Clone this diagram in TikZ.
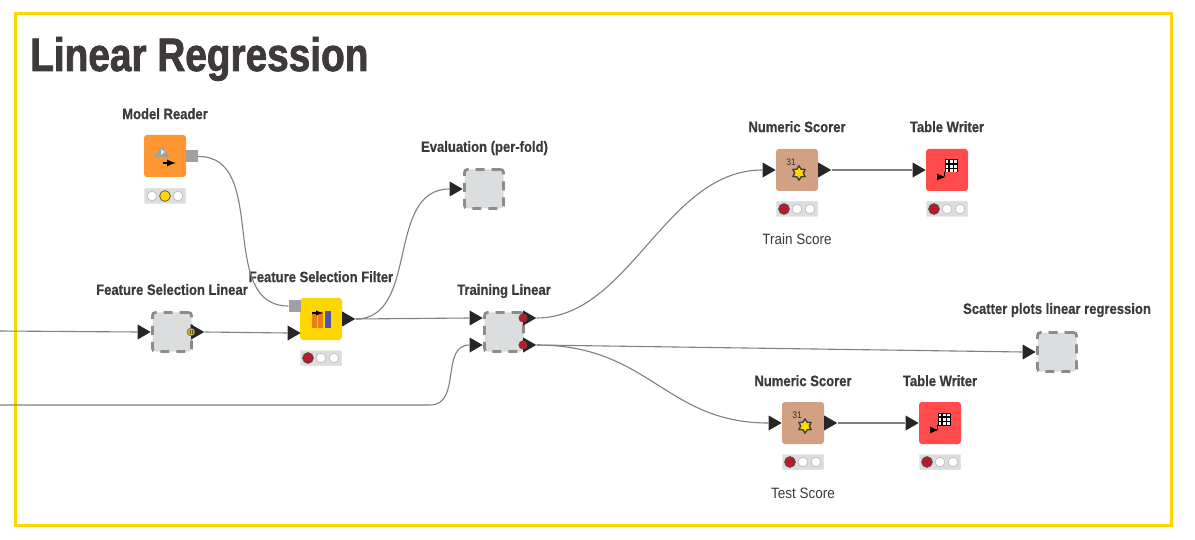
\documentclass[tikz,border=0pt]{standalone}
\usepackage{fontspec}
\setmainfont{Liberation Sans}[FakeStretch=0.9]
\newfontfamily\titlefont{Liberation Sans Bold}[FakeStretch=0.825,FakeBold=1.6]
\newfontfamily\capfont{Liberation Sans Bold}[FakeStretch=0.87,FakeBold=.6]
\usetikzlibrary{positioning,shapes.geometric}
\definecolor{frameyellow}{HTML}{FFD700}
\definecolor{inktext}{HTML}{3E3A39}
\definecolor{wiregray}{HTML}{808080}
\definecolor{boxgray}{HTML}{DCDDDE}
\definecolor{portgray}{HTML}{A0A0A0}
\definecolor{lightred}{HTML}{B71C2B}
\definecolor{readerorange}{HTML}{FF9632}
\definecolor{scorerbrown}{HTML}{D2A184}
\definecolor{writerred}{HTML}{FF4B4B}
\tikzset{
  knode/.style={minimum size=42pt,inner sep=0pt,rounded corners=3pt},
  metanode/.style={knode,fill=boxgray,draw=black!45,line width=2.8pt,dash pattern=on 9pt off 7pt,minimum size=39pt},
  portin/.style={isosceles triangle,isosceles triangle apex angle=70,isosceles triangle stretches,fill=black!85,inner sep=0pt,minimum width=15pt,minimum height=13pt},
  wire/.style={wiregray,line width=1.1pt},
  caption/.style={font=\capfont\fontsize{15}{15}\selectfont,text=inktext,text height=11pt,text depth=3pt,inner sep=0pt},
  note/.style={font=\fontsize{15}{15}\selectfont,text=inktext,inner sep=0pt},
  lightbar/.style={fill=boxgray,draw=black!15,minimum width=41pt,minimum height=15pt,inner sep=0pt,rounded corners=1pt},
  lamp/.style={draw=black!25,fill=white,line width=.7pt}
}
% status lights below a node: #1 bar name, #2 lit lamp, #3 lamp colour
\newcommand{\lights}[3]{
  \foreach \i in {-1,0,1}
    \draw[lamp] ([xshift=\i*13pt]#1.center) circle (4.8pt);
  \draw[black!70,fill=#3,line width=.7pt] ([xshift=#2*13pt]#1.center) circle (5.4pt);
}
\newcommand{\scoreicon}[1]{
  \node[font=\fontsize{9.5}{9.5}\selectfont,text=black!80,inner sep=0pt] at ([xshift=-6pt,yshift=8pt]#1.center) {31};
  \node[star,star points=6,star point ratio=1.6,fill=frameyellow,draw=black!75,line width=1.4pt,minimum size=14pt,inner sep=0pt] at ([xshift=2pt,yshift=-3pt]#1.center) {};
}
\newcommand{\writericon}[1]{
  \begin{scope}[shift={(#1.center)}]
    \fill[black] (-2.5,-10.5) rectangle (10.5,2.5);
    \foreach \x in {-1.5,2.7,6.9}
      \foreach \y in {-9.5,-5.3,-1.1}
        \fill[white] (\x,\y) rectangle +(2.9,2.9);
    \draw[black,line width=1pt] (-2.5,2) -- (-2.5,6);
    \draw[black,line width=2pt,-latex] (-10,7) -- (-1,7);
  \end{scope}
}
\begin{document}
\begin{tikzpicture}[x=1pt,y=-1pt]
  \useasboundingbox (0,0) rectangle (1195,540);
  \fill[white] (0,0) rectangle (1195,540);
  \draw[frameyellow,line width=3pt] (15,14) rectangle (1171,525);
  \node[anchor=base west,inner sep=0pt,font=\titlefont\fontsize{47}{47}\selectfont,text=inktext] (title) at (30,71) {Linear Regression};

  % nodes
  \node[knode,fill=readerorange] (reader) at (165,156) {};
  \node[metanode] (fsl) at (172,332) {};
  \node[knode,fill=frameyellow] (fsf) at (321,319) {};
  \node[metanode] (eval) at (484,189) {};
  \node[metanode] (train) at (504,332) {};
  \node[knode,fill=scorerbrown] (scorera) at (797,170) {};
  \node[knode,fill=writerred] (writera) at (947,170) {};
  \node[metanode] (scatter) at (1057,352) {};
  \node[knode,fill=scorerbrown] (scorerb) at (803,423) {};
  \node[knode,fill=writerred] (writerb) at (940,423) {};

  % captions
  \node[caption,above=12.5pt of reader] (readerlab) {Model Reader};
  \node[caption,above=13pt of fsl] (fsllab) {Feature Selection Linear};
  \node[caption,above=12.5pt of fsf] (fsflab) {Feature Selection Filter};
  \node[caption,above=13pt of eval,xshift=.5pt] (evallab) {Evaluation (per-fold)};
  \node[caption,above=13pt of train] (trainlab) {Training Linear};
  \node[caption,above=13.5pt of scorera] (scorealab) {Numeric Scorer};
  \node[caption,above=13.5pt of writera] (writealab) {Table Writer};
  \node[caption,above=14pt of scatter] (scatterlab) {Scatter plots linear regression};
  \node[caption,above=12.5pt of scorerb] (scoreblab) {Numeric Scorer};
  \node[caption,above=12.5pt of writerb] (writeblab) {Table Writer};
  \node[note] (trainnote) at (797,239) {Train Score};
  \node[note] (testnote) at (803,493) {Test Score};

  % status lights
  \node[lightbar] (lreader) at (165,196) {};
  \node[lightbar] (lfsf) at (321,358) {};
  \node[lightbar] (lscorera) at (797,209) {};
  \node[lightbar] (lwritera) at (947,209) {};
  \node[lightbar] (lscorerb) at (803,462) {};
  \node[lightbar] (lwriterb) at (940,462) {};
  \lights{lreader}{0}{frameyellow}
  \lights{lfsf}{-1}{lightred}
  \lights{lscorera}{-1}{lightred}
  \lights{lwritera}{-1}{lightred}
  \lights{lscorerb}{-1}{lightred}
  \lights{lwriterb}{-1}{lightred}

  % connectors
  \coordinate (flowa) at (0,331);
  \coordinate (flowb) at (0,405);
  \node[portin,anchor=apex] (fslin) at (151,332) {};
  \node[portin,anchor=west] (fslout) at (191,332) {};
  \node[portin,anchor=apex] (fsfin) at (301,333) {};
  \node[portin,anchor=west] (fsfout) at (342,319) {};
  \node[portin,anchor=apex] (evalin) at (463,189) {};
  \node[portin,anchor=apex] (trainina) at (483,318) {};
  \node[portin,anchor=apex] (traininb) at (483,345) {};
  \node[portin,anchor=west] (trainouta) at (523,318) {};
  \node[portin,anchor=west] (trainoutb) at (523,345) {};
  \node[portin,anchor=apex] (scoreraina) at (776,170) {};
  \node[portin,anchor=west] (scoreraout) at (818,170) {};
  \node[portin,anchor=apex] (writerain) at (926,170) {};
  \node[portin,anchor=apex] (scatterin) at (1036,352) {};
  \node[portin,anchor=apex] (scorerbin) at (782,423) {};
  \node[portin,anchor=west] (scorerbout) at (824,423) {};
  \node[portin,anchor=apex] (writerbin) at (919,423) {};
  \node[fill=portgray,inner sep=0pt,minimum size=12pt] (readerout) at (192,156.5) {};
  \node[fill=portgray,inner sep=0pt,minimum size=12pt] (fsfmodel) at (294.5,306) {};
  \node[circle,fill=frameyellow!85!black,draw=black!70,inner sep=0pt,minimum size=8pt] (fslflow) at (191,332) {};
  \draw[black!70,line width=.6pt] (190,330) -- (190,334) (192,330) -- (192,334);
  \node[circle,fill=lightred,draw=black!70,inner sep=0pt,minimum size=8.5pt] (trainsa) at (523,318) {};
  \node[circle,fill=lightred,draw=black!70,inner sep=0pt,minimum size=8.5pt] (trainsb) at (523,345) {};

  \draw[wire] (flowa) -- (fslin.west);
  \draw[wire] (flowb) -- (430,405) .. controls (462,405) and (440,345) .. (traininb.west);
  \draw[wire] (fslout.apex) -- (fsfin.west);
  \draw[wire] (readerout.east) .. controls (270,156) and (216,306) .. (fsfmodel.west);
  \draw[wire] (fsfout.apex) -- (trainina.west);
  \draw[wire] (fsfout.apex) .. controls (420,319) and (385,189) .. (evalin.west);
  \draw[wire] (trainouta.apex) .. controls (630,318) and (665,170) .. (scoreraina.west);
  \draw[wire] (trainoutb.apex) -- (scatterin.west);
  \draw[wire] (trainoutb.apex) .. controls (650,345) and (665,423) .. (scorerbin.west);
  \draw[wire] (scoreraout.apex) -- (writerain.west);
  \draw[wire] (scorerbout.apex) -- (writerbin.west);

  % icons
  \fill[portgray] (154,157) -- (162,146) -- (170,157) -- cycle;
  \fill[white!85!gray] (161,149) -- (165,152) -- (161,155) -- cycle;
  \draw[black,line width=2pt,-latex] (163,163) -- (176,163);
  \fill[orange!65!brown] (312,312) rectangle (317,328) (318,312) rectangle (323,328);
  \fill[blue!35!gray] (325,311) rectangle (331,328);
  \draw[black,line width=1.4pt,-latex] (312,313) -- (323,313);
  \scoreicon{scorera}
  \scoreicon{scorerb}
  \writericon{writera}
  \writericon{writerb}
\end{tikzpicture}
\end{document}
